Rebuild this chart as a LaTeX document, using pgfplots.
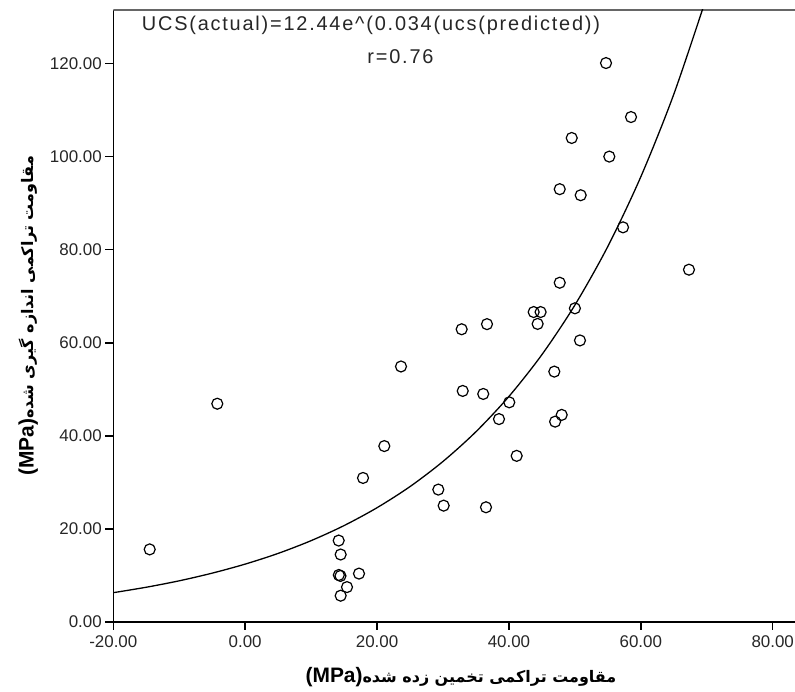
\documentclass[border=0pt]{standalone}
\usepackage{fontspec}
\setmainfont{Liberation Sans}
\newfontfamily\persian[Script=Arabic]{DejaVu Sans}
\newfontfamily\titlefont[LetterSpace=9]{Liberation Sans}
\usepackage{pgfplots}
\pgfplotsset{compat=1.18}
\TeXXeTstate=1

\begin{document}
\begin{tikzpicture}
\begin{axis}[
  at={(113.3bp,70bp)}, anchor=south west,
  scale only axis, width=681.7bp, height=612bp,
  xmin=-20, xmax=83.38, ymin=0, ymax=131.5,
  axis x line*=bottom, axis y line*=left,
  axis line style={black, line width=1.5bp, -},
  xtick={-20,0,...,80}, ytick={0,20,...,120},
  tick align=outside, major tick length=8bp,
  tick style={black, line width=1.5bp},
  /pgf/number format/fixed,
  /pgf/number format/fixed zerofill,
  /pgf/number format/precision=2,
  /pgf/number format/assume math mode=true,
  ticklabel style={font=\fontsize{17}{17}\selectfont, text=black!85},
  xticklabel style={yshift=-2bp},
  xlabel={\fontsize{21}{21}\selectfont\bfseries (MPa){\persian\fontsize{16}{16}\selectfont\bfseries\beginR مقاومت تراکمی تخمین زده شده\endR}},
  ylabel={\fontsize{21}{21}\selectfont\bfseries (MPa){\persian\fontsize{16}{16}\selectfont\bfseries\beginR مقاومت تراکمی اندازه گیری شده\endR}},
  xlabel style={at={(rel axis cs:0.510,-0.0899)}, anchor=center},
  ylabel style={at={(rel axis cs:-0.1247,0.5)}, anchor=center},
]
% top frame line
\draw[black!60, line width=2bp] (rel axis cs:0,1) -- (rel axis cs:1,1);

% fitted curve UCS(actual)=12.44e^(0.034 ucs(predicted))
\addplot[black, line width=1.3bp, smooth] coordinates {
  (-20,6.30) (-15,7.47) (-10,8.85) (-5,10.50) (0,12.44) (5,14.74)
  (10,17.48) (15,20.72) (20,24.56) (25,29.10) (30,34.50) (35,40.89)
  (40,48.47) (45,57.45) (50,68.10) (55,80.71) (60,95.67) (65,113.40)
  (70,134.41)
};

% measured vs predicted UCS
\addplot[only marks, mark=o, mark size=5.5bp, mark options={black, line width=1.2bp}] coordinates {
  (-14.48,15.6) (-4.23,46.9) (21.1,37.8) (17.87,30.95) (14.18,17.5)
  (14.48,14.5) (14.2,10.1) (14.45,9.9) (17.26,10.4) (15.44,7.5)
  (14.48,5.65) (23.63,54.9)
  (32.99,49.65) (36.1,49.0) (40.05,47.2) (38.49,43.6) (46.88,53.8)
  (48.0,44.5) (47.0,43.05) (41.17,35.7) (29.29,28.45) (30.1,25.0)
  (36.52,24.65) (50.77,60.5)
  (54.72,120.1) (58.51,108.5) (49.52,104.0) (55.22,100.0) (47.7,93.0)
  (50.88,91.7) (57.3,84.8) (67.3,75.7) (47.7,72.9) (43.75,66.6)
  (44.8,66.6) (50.0,67.4) (44.35,64.05) (36.67,64.0) (32.83,62.9)
};

\node[anchor=base, font=\titlefont\fontsize{20}{20}\selectfont, text=black!85]
  at (rel axis cs:0.378,0.967) {UCS(actual)=12.44e\^{}(0.034(ucs(predicted))};
\node[anchor=base, font=\titlefont\fontsize{20}{20}\selectfont, text=black!85]
  at (rel axis cs:0.4213,0.913) {r=0.76};
\end{axis}
\pgfresetboundingbox
\path[use as bounding box] (0,0) rectangle (795bp,692bp);
\end{tikzpicture}
\end{document}
